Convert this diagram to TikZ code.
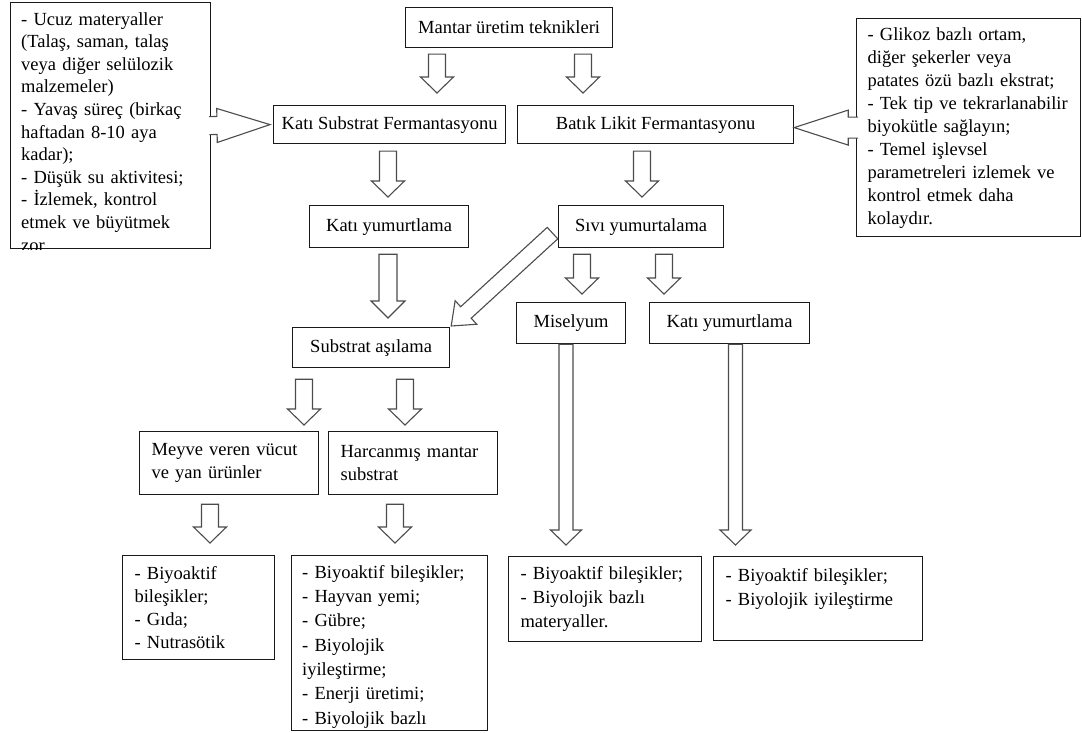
\documentclass[tikz,border=0pt]{standalone}
\usepackage{fontspec}
\setmainfont{Liberation Serif}
\usetikzlibrary{calc}

\tikzset{
  box/.style={draw=black!90, line width=1.2pt, fill=white, anchor=north west, inner sep=0pt,
    font=\fontsize{18.5}{23}\selectfont},
  listbox/.style={box, align=left, inner xsep=12pt, inner ysep=6pt},
  notetext/.style={anchor=north west, align=left, inner xsep=11pt, inner ysep=10pt,
    font=\fontsize{18.5}{22.6}\selectfont},
  hollow/.style={draw=black!70, line width=1.1pt, fill=white, line join=miter},
}

\begin{document}
\begin{tikzpicture}[x=1pt, y=-1pt]%
\useasboundingbox (0,0) rectangle (1082,733);
%
\def\fatarrow(#1)(#2)(#3:#4:#5)% Syntax: (tail) (tip) (half shaft:half head:head length)
{ \draw[hollow] let \p1=($(#2)-(#1)$), \n1={atan2(\y1,\x1)}, \n2={veclen(\x1,\y1)} in
  [shift={(#1)}, rotate=\n1] (0,#3) -- (\n2-#5,#3) -- (\n2-#5,#4) -- (\n2,0)
  -- (\n2-#5,-#4) -- (\n2-#5,-#3) -- (0,-#3) -- cycle; }
\def\sidearrow(#1)(#2)(#3:#4:#5)% Syntax: same, tail left open over the box border
{ \fill[white] let \p1=($(#2)-(#1)$), \n1={atan2(\y1,\x1)}, \n2={veclen(\x1,\y1)} in
  [shift={(#1)}, rotate=\n1] (0,#3) -- (\n2-#5,#3) -- (\n2-#5,#4) -- (\n2,0)
  -- (\n2-#5,-#4) -- (\n2-#5,-#3) -- (0,-#3) -- cycle;
  \draw[hollow, fill=none] let \p1=($(#2)-(#1)$), \n1={atan2(\y1,\x1)}, \n2={veclen(\x1,\y1)} in
  [shift={(#1)}, rotate=\n1] (0,#3) -- (\n2-#5,#3) -- (\n2-#5,#4) -- (\n2,0)
  -- (\n2-#5,-#4) -- (\n2-#5,-#3) -- (0,-#3); }
%
% top row
\node[box, minimum width=207, minimum height=40] (mantar) at (405,7) {Mantar üretim teknikleri};
\node[box, minimum width=232, minimum height=38] (kss) at (273,105) {Katı Substrat Fermantasyonu};
\node[box, minimum width=276, minimum height=38] (blf) at (517,105) {Batık Likit Fermantasyonu};
%
% notes left and right
\node[box, minimum width=200, minimum height=246] (katinot) at (10,2) {};
\begin{scope}
\clip (katinot.north west) rectangle (katinot.south east);
\node[notetext, text width=180] (katinotyazi) at (katinot.north west)
  {- Ucuz materyaller\\(Talaş, saman, talaş\\veya diğer selülozik\\malzemeler)\\- Yavaş süreç (birkaç\\haftadan 8-10 aya\\kadar);\\- Düşük su aktivitesi;\\- İzlemek, kontrol\\etmek ve büyütmek\\zor};
\end{scope}
\node[listbox, text width=202, inner xsep=11pt, minimum height=218, font=\fontsize{18.5}{23}\selectfont] (sagnot) at (856,18)
  {- Glikoz bazlı ortam,\\diğer şekerler veya\\patates özü bazlı ekstrat;\\- Tek tip ve tekrarlanabilir\\biyokütle sağlayın;\\- Temel işlevsel\\parametreleri izlemek ve\\kontrol etmek daha\\kolaydır.};
%
% spawn
\node[box, minimum width=159, minimum height=42] (katiyum) at (309,205) {Katı yumurtlama};
\node[box, minimum width=165, minimum height=42] (sivi) at (558,205) {Sıvı yumurtalama};
\node[box, minimum width=157, minimum height=40] (asilama) at (292,327) {Substrat aşılama};
\node[box, minimum width=109, minimum height=41] (miselyum) at (516,302) {Miselyum};
\node[box, minimum width=160, minimum height=41] (katiyumb) at (649,302) {Katı yumurtlama};
\node[listbox, text width=155, minimum height=63] (meyve) at (139,431) {Meyve veren vücut\\ve yan ürünler};
\node[listbox, text width=145, minimum height=63] (harcanmis) at (328,431) {Harcanmış mantar\\substrat};
%
% products
\node[listbox, text width=128, minimum height=104, font=\fontsize{18.5}{23}\selectfont] (meyveurun) at (122,555)
  {- Biyoaktif\\bileşikler;\\- Gıda;\\- Nutrasötik};
\node[box, minimum width=196, minimum height=175] (harcurun) at (291,555) {};
\begin{scope}
\clip (harcurun.north west) rectangle (harcurun.south east);
\node[notetext, text width=174, font=\fontsize{18.5}{24.3}\selectfont] (harcyazi) at (harcurun.north west)
  {- Biyoaktif bileşikler;\\- Hayvan yemi;\\- Gübre;\\- Biyolojik\\iyileştirme;\\- Enerji üretimi;\\- Biyolojik bazlı};
\end{scope}
\node[listbox, text width=169, minimum height=85, font=\fontsize{18.5}{24}\selectfont] (miselurun) at (508,556)
  {- Biyoaktif bileşikler;\\- Biyolojik bazlı\\materyaller.};
\node[listbox, text width=185, minimum height=84, font=\fontsize{18.5}{24}\selectfont] (katiurun) at (713,556)
  {- Biyoaktif bileşikler;\\- Biyolojik iyileştirme\\\mbox{}};
%
% arrows
\fatarrow([yshift=-6]437,0 |- mantar.south)([yshift=12]437,0 |- kss.north)(8.5:16.5:16)
\fatarrow([yshift=-6]583,0 |- mantar.south)([yshift=12]583,0 |- blf.north)(8.5:16.5:16)
\fatarrow([yshift=-7]388,0 |- kss.south)([yshift=8]388,0 |- katiyum.north)(8.5:16.5:16)
\fatarrow([yshift=-7]642,0 |- blf.south)([yshift=8]642,0 |- sivi.north)(8.5:16.5:16)
\fatarrow([yshift=-6]388,0 |- katiyum.south)([yshift=9]388,0 |- asilama.north)(9:17:17)
\fatarrow([shift={(-5.5,6.5)}]sivi.west)([shift={(1,-1)}]asilama.north east)(7.8:16:20)
\fatarrow([yshift=-6]582,0 |- sivi.south)([yshift=8]582,0 |- miselyum.north)(8.5:16.5:16)
\fatarrow([yshift=-6]664,0 |- sivi.south)([yshift=8]664,0 |- katiyumb.north)(8.5:16.5:16)
\fatarrow(566,0 |- miselyum.south)([yshift=11]566,0 |- miselurun.north)(7:15.5:15)
\fatarrow(735.5,0 |- katiyumb.south)([yshift=11]735.5,0 |- katiurun.north)(7:15.5:15)
\fatarrow([yshift=-11]304,0 |- asilama.south)([yshift=6]304,0 |- meyve.north)(8.5:16.5:16)
\fatarrow([yshift=-11]405,0 |- asilama.south)([yshift=6]405,0 |- harcanmis.north)(8.5:16.5:16)
\fatarrow([yshift=-9]210,0 |- meyve.south)([yshift=12]210,0 |- meyveurun.north)(8.5:16.5:16)
\fatarrow([yshift=-9]395,0 |- harcanmis.south)([yshift=12]395,0 |- harcurun.north)(8.5:16.5:16)
\sidearrow([xshift=-2]katinot.east)([xshift=-3]kss.west)(9:17:53)
\sidearrow([xshift=2]sagnot.west)(blf.east |- sagnot.west)(10.5:17.5:54)
%
\end{tikzpicture}
\end{document}
